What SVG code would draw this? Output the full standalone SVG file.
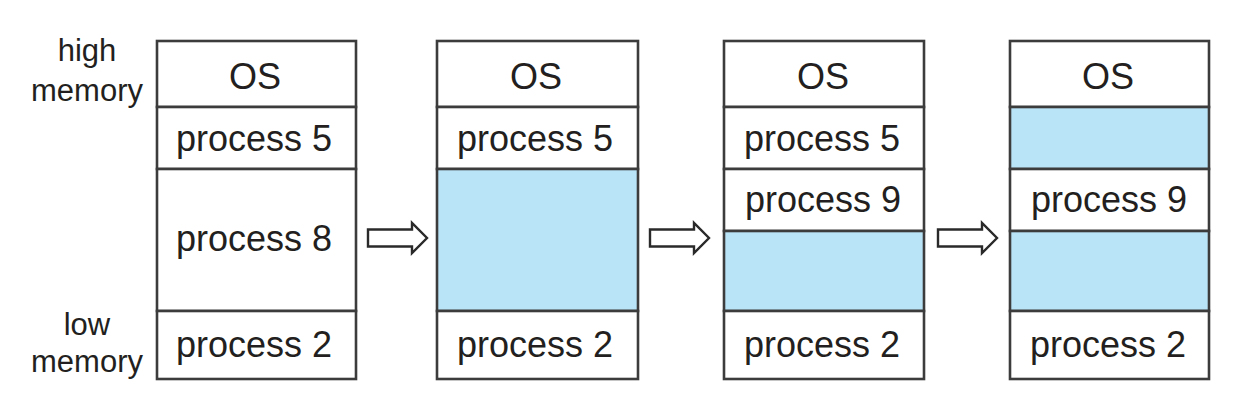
<svg xmlns="http://www.w3.org/2000/svg" width="1242" height="406" viewBox="0 0 1242 406">
<style>
.cell{fill:#ffffff;stroke:#3c3c3c;stroke-width:2.6}
.free{fill:#b9e3f7;stroke:#3c3c3c;stroke-width:2.6}
.t{font-family:"Liberation Sans",Arial,sans-serif;font-size:36px;fill:#231f20;text-anchor:middle}
.lbl{font-family:"Liberation Sans",Arial,sans-serif;font-size:31px;fill:#231f20;text-anchor:middle}
.arrow{fill:#ffffff;stroke:#2a2a2a;stroke-width:2.4;stroke-linejoin:miter}
</style>
<defs>
<polygon id="arr" points="0,-8.5 44,-8.5 44,-15 59,0 44,15 44,8.5 0,8.5"/>
</defs>
<g id="labels">
<text class="lbl" x="87" y="61">high</text>
<text class="lbl" x="87" y="101">memory</text>
<text class="lbl" x="87" y="335">low</text>
<text class="lbl" x="87" y="372">memory</text>
</g>
<g id="memory1">
<rect class="cell" x="157" y="41" width="199" height="66"/>
<rect class="cell" x="157" y="107" width="199" height="62"/>
<rect class="cell" x="157" y="169" width="199" height="142"/>
<rect class="cell" x="157" y="311" width="199" height="68"/>
<text class="t" x="255" y="89">OS</text>
<text class="t" x="254" y="151">process 5</text>
<text class="t" x="254" y="251">process 8</text>
<text class="t" x="254" y="357">process 2</text>
</g>
<g id="memory2">
<rect class="cell" x="437" y="41" width="201" height="66"/>
<rect class="cell" x="437" y="107" width="201" height="62"/>
<rect class="free" x="437" y="169" width="201" height="142"/>
<rect class="cell" x="437" y="311" width="201" height="68"/>
<text class="t" x="536" y="89">OS</text>
<text class="t" x="535" y="151">process 5</text>
<text class="t" x="535" y="357">process 2</text>
</g>
<g id="memory3">
<rect class="cell" x="724" y="41" width="200" height="66"/>
<rect class="cell" x="724" y="107" width="200" height="62"/>
<rect class="cell" x="724" y="169" width="200" height="62"/>
<rect class="free" x="724" y="231" width="200" height="80"/>
<rect class="cell" x="724" y="311" width="200" height="68"/>
<text class="t" x="823" y="89">OS</text>
<text class="t" x="822" y="151">process 5</text>
<text class="t" x="823" y="212">process 9</text>
<text class="t" x="822" y="357">process 2</text>
</g>
<g id="memory4">
<rect class="cell" x="1010" y="41" width="199" height="66"/>
<rect class="free" x="1010" y="107" width="199" height="62"/>
<rect class="cell" x="1010" y="169" width="199" height="62"/>
<rect class="free" x="1010" y="231" width="199" height="80"/>
<rect class="cell" x="1010" y="311" width="199" height="68"/>
<text class="t" x="1108" y="89">OS</text>
<text class="t" x="1109" y="212">process 9</text>
<text class="t" x="1108" y="357">process 2</text>
</g>
<g id="connectors">
<use href="#arr" class="arrow" x="368" y="238"/>
<use href="#arr" class="arrow" x="650" y="238"/>
<use href="#arr" class="arrow" x="938" y="238"/>
</g>
</svg>
